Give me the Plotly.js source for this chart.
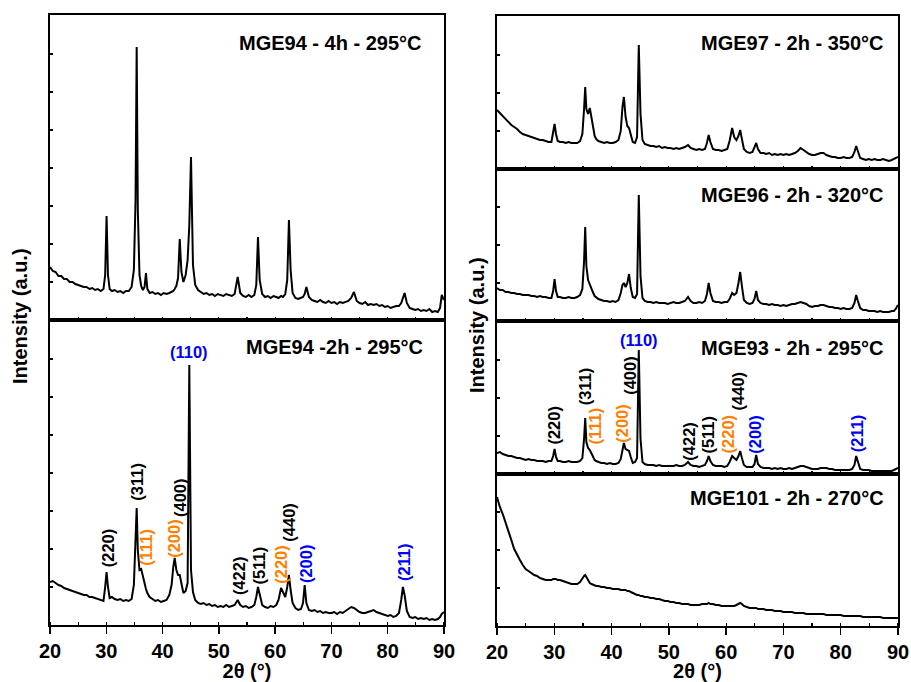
<!DOCTYPE html>
<html>
<head>
<meta charset="utf-8">
<script src="https://cdn.plot.ly/plotly-3.0.1.min.js"></script>
<style>
html,body{margin:0;padding:0;background:#fff;}
#chart{width:911px;height:682px;}
</style>
</head>
<body>
<div id="chart"></div>
<script>
// ---------------- DATA ----------------
const TWO_THETA = [
 20, 20.5, 21, 21.5, 22, 22.5, 23, 23.5, 24, 24.5,
 25, 25.5, 26, 26.5, 27, 27.5, 28, 28.5, 29, 29.5,
 29.8, 30.05, 30.3, 30.6, 31, 31.5, 32, 32.5, 33, 33.5,
 34, 34.5, 34.9, 35.2, 35.4, 35.6, 35.9, 36.2, 36.5, 36.8,
 37.05, 37.3, 37.7, 38.2, 38.7, 39.2, 39.7, 40.2, 40.7, 41.2,
 41.6, 41.9, 42.15, 42.45, 42.75, 43.05, 43.35, 43.7, 44.1, 44.45,
 44.75, 45.05, 45.4, 45.8, 46.3, 46.8, 47.3, 47.8, 48.3, 48.8,
 49.3, 49.8, 50.3, 50.8, 51.3, 51.8, 52.3, 52.8, 53.35, 53.8,
 54.3, 54.8, 55.3, 55.8, 56.3, 56.65, 56.95, 57.25, 57.7, 58.2,
 58.7, 59.2, 59.7, 60.2, 60.6, 61.05, 61.4, 61.8, 62.15, 62.45,
 62.75, 63.1, 63.6, 64.1, 64.6, 64.95, 65.25, 65.55, 66, 66.5,
 67, 67.5, 68, 68.5, 69, 69.5, 70, 70.5, 71, 71.5,
 72, 72.5, 73, 73.5, 74, 74.5, 75, 75.5, 76, 76.5,
 77, 77.5, 78, 78.5, 79, 79.5, 80, 80.5, 81, 81.5,
 82, 82.4, 82.7, 83.0, 83.4, 83.9, 84.4, 84.9, 85.4, 85.9,
 86.4, 86.9, 87.4, 87.9, 88.4, 88.9, 89.3, 89.6, 90
];

const MGE94_4H = [
 53, 49, 48, 44, 44, 41, 41, 38, 38, 36,
 35, 34, 33, 33, 31, 32, 30, 31, 29, 31,
 45, 104, 45, 31, 29, 30, 28, 29, 27, 29,
 29, 33, 50, 120, 273, 110, 45, 34, 30, 33,
 47, 31, 27, 28, 26, 27, 25, 27, 26, 27,
 28, 29, 31, 34, 42, 81, 48, 38, 45, 60,
 95, 163, 55, 35, 30, 28, 26, 27, 25, 26,
 24, 26, 25, 24, 26, 25, 24, 26, 43, 27,
 24, 23, 25, 23, 25, 35, 83, 40, 26, 23,
 24, 22, 24, 23, 22, 24, 23, 26, 40, 100,
 50, 27, 22, 21, 22, 23, 26, 33, 23, 20,
 19, 18, 20, 18, 17, 19, 17, 18, 16, 18,
 17, 18, 19, 22, 28, 19, 17, 16, 18, 15,
 16, 15, 16, 14, 15, 13, 14, 12, 13, 14,
 14, 17, 22, 27, 17, 12, 11, 10, 11, 9,
 10, 9, 11, 8, 9, 8, 12, 25, 20
];

const MGE94_2H = [
 43, 44, 42, 40, 39, 37, 36, 35, 34, 33,
 32, 31, 30, 30, 28, 28, 27, 26, 25, 24,
 38, 53, 38, 27, 28, 26, 25, 26, 24, 25,
 24, 26, 40, 80, 117, 75, 55, 56, 48, 40,
 36, 32, 28, 26, 24, 25, 23, 24, 25, 30,
 40, 58, 67, 55, 50, 50, 40, 32, 34, 42,
 260, 55, 33, 25, 22, 21, 22, 20, 21, 19,
 20, 18, 19, 18, 20, 18, 19, 20, 25, 20,
 18, 19, 17, 18, 20, 28, 38, 30, 20, 18,
 17, 19, 18, 20, 25, 37, 32, 28, 38, 50,
 35, 22, 17, 15, 16, 22, 40, 22, 15, 14,
 15, 13, 14, 12, 13, 12, 12, 13, 11, 13,
 12, 14, 16, 18, 17, 15, 13, 12, 12, 13,
 14, 15, 13, 12, 11, 10, 9, 10, 8, 9,
 12, 25, 38, 30, 14, 8, 7, 8, 6, 7,
 6, 7, 5, 6, 5, 6, 8, 11, 13
];

const MGE97_2H = [
 59, 56, 52, 49, 46, 44, 42, 40, 37, 35,
 34, 33, 32, 31, 30, 29, 29, 28, 27, 27,
 35, 45, 35, 28, 27, 27, 26, 27, 26, 26,
 26, 28, 35, 60, 82, 60, 55, 61, 50, 38,
 33, 30, 28, 27, 26, 27, 26, 26, 27, 29,
 38, 62, 72, 52, 43, 41, 35, 27, 26, 32,
 124, 55, 29, 25, 24, 23, 23, 22, 23, 21,
 22, 21, 21, 20, 21, 20, 21, 22, 24, 21,
 20, 19, 20, 19, 20, 26, 34, 27, 20, 19,
 19, 18, 19, 20, 28, 41, 32, 29, 33, 39,
 30, 20, 17, 16, 17, 21, 26, 20, 16, 16,
 15, 16, 14, 15, 14, 15, 14, 15, 14, 15,
 16, 18, 21, 19, 17, 15, 14, 14, 15, 16,
 16, 14, 13, 12, 12, 11, 11, 12, 11, 11,
 12, 17, 23, 18, 11, 10, 9, 10, 9, 10,
 9, 9, 10, 9, 8, 9, 10, 11, 12
];

const MGE96_2H = [
 33, 31, 31, 29, 29, 28, 28, 27, 27, 26,
 26, 26, 25, 25, 24, 25, 24, 24, 23, 23,
 30, 42, 30, 24, 24, 23, 23, 24, 23, 23,
 24, 26, 32, 60, 94, 55, 41, 36, 32, 28,
 25, 24, 22, 21, 20, 20, 19, 20, 19, 21,
 28, 36, 38, 34, 38, 47, 33, 24, 23, 27,
 126, 45, 23, 20, 19, 19, 18, 19, 18, 18,
 18, 17, 18, 19, 18, 18, 19, 20, 24, 20,
 18, 18, 19, 18, 20, 27, 38, 28, 20, 19,
 19, 18, 19, 19, 22, 28, 26, 28, 38, 49,
 35, 21, 18, 17, 18, 22, 30, 21, 18, 17,
 17, 16, 17, 16, 16, 15, 16, 15, 16, 17,
 17, 18, 19, 18, 17, 15, 14, 15, 15, 16,
 16, 15, 14, 14, 13, 13, 12, 13, 12, 12,
 13, 18, 26, 20, 13, 11, 11, 10, 10, 10,
 9, 10, 9, 9, 9, 10, 10, 12, 16
];

const MGE93_2H = [
 21, 22, 20, 19, 18, 18, 17, 16, 16, 15,
 14, 15, 14, 14, 13, 13, 13, 12, 13, 13,
 18, 25, 17, 13, 13, 12, 12, 13, 12, 12,
 12, 13, 16, 35, 56, 32, 26, 24, 20, 16,
 14, 13, 12, 11, 11, 10, 11, 10, 10, 11,
 15, 26, 31, 25, 24, 23, 17, 11, 12, 16,
 124, 35, 12, 10, 9, 9, 9, 8, 9, 8,
 8, 8, 8, 8, 9, 8, 8, 9, 12, 9,
 8, 8, 7, 8, 9, 13, 18, 13, 9, 8,
 8, 8, 7, 8, 12, 18, 16, 14, 18, 23,
 16, 9, 7, 7, 7, 10, 19, 10, 7, 6,
 6, 6, 5, 6, 5, 6, 5, 5, 6, 5,
 6, 7, 8, 8, 7, 6, 5, 5, 5, 6,
 6, 6, 5, 5, 4, 4, 4, 4, 4, 4,
 5, 9, 18, 12, 5, 4, 4, 4, 3, 3,
 3, 3, 3, 3, 3, 3, 4, 5, 6
];

const MGE101_2H = [
 129, 119, 112, 104, 96, 86, 77, 71, 66, 61,
 57, 55, 53, 51, 50, 48, 47, 46, 46, 46,
 47, 47, 47, 46, 46, 45, 44, 43, 42, 42,
 42, 44, 48, 50, 51, 49, 45, 43, 42, 41,
 41, 40, 40, 39, 39, 38, 38, 37, 37, 37,
 36, 36, 36, 36, 35, 35, 34, 33, 32, 31,
 31, 30, 30, 29, 29, 28, 28, 27, 27, 26,
 25, 25, 24, 24, 23, 23, 22, 22, 22, 21,
 21, 21, 21, 22, 22, 22, 23, 22, 22, 21,
 21, 20, 20, 20, 20, 20, 20, 21, 22, 23,
 22, 20, 19, 18, 18, 18, 18, 17, 17, 17,
 16, 16, 16, 15, 15, 15, 14, 14, 14, 14,
 13, 13, 13, 13, 12, 12, 12, 12, 12, 12,
 12, 11, 11, 11, 11, 11, 11, 10, 10, 10,
 10, 10, 10, 10, 10, 9, 9, 9, 9, 9,
 9, 9, 8, 8, 8, 8, 8, 8, 8
];

const SAMPLE_NAMES = [
 'MGE94 - 4h - 295°C', 'MGE94 -2h - 295°C',
 'MGE97 - 2h - 350°C', 'MGE96 - 2h - 320°C', 'MGE93 - 2h - 295°C', 'MGE101 - 2h - 270°C'
];

const X_TICKS = [20, 30, 40, 50, 60, 70, 80, 90];

// Peak indexing labels (hkl) and phase
const PEAK_HKL   = ['(220)','(311)','(111)','(200)','(400)','(110)','(422)','(511)','(220)','(440)','(200)','(211)'];
const PEAK_PHASE = ['Fe3O4','Fe3O4','FeO','FeO','Fe3O4','Fe','Fe3O4','Fe3O4','FeO','Fe3O4','Fe','Fe'];
// label anchor positions (2θ, intensity a.u.) for MGE94-2h and MGE93
const LBL_X_94 = [30.35, 35.4, 37.0, 42.0, 43.1, 44.7, 53.6, 57.2, 61.0, 62.4, 65.5, 82.9];
const LBL_Y_94 = [77, 143, 78, 87, 127, 273, 49, 60, 61, 103, 61, 63];
const LBL_X_93 = [30.0, 35.36, 37.1, 41.9, 43.1, 44.8, 53.5, 56.9, 60.4, 62.0, 65.0, 82.8];
const LBL_Y_93 = [48.7, 87.7, 48.5, 50.7, 98.5, 134, 33.2, 39.8, 40, 83.2, 40, 40.5];

// ---------------- LAYOUT / RENDER ----------------
const W = 911, H = 682;
const FONT = 'Liberation Sans, Arial, Helvetica, sans-serif';
const PHASE_COLOR = {Fe3O4: '#000000', FeO: '#FF8000', Fe: '#0000FF'};

function px2x(px){ return px / W; }
function px2y(px){ return 1 - px / H; }

const panels = [
 {xl:50, xr:444, yt:15, yb:320, data:MGE94_4H, bottom:false},
 {xl:50, xr:444, yt:320, yb:625, data:MGE94_2H, bottom:true},
 {xl:497, xr:898, yt:16, yb:169, data:MGE97_2H, bottom:false},
 {xl:497, xr:898, yt:169, yb:321, data:MGE96_2H, bottom:false},
 {xl:497, xr:898, yt:321, yb:474, data:MGE93_2H, bottom:false},
 {xl:497, xr:898, yt:474, yb:626, data:MGE101_2H, bottom:true}
];

const traces = [];
const layout = {
 width: W, height: H,
 margin: {l:0, r:0, t:0, b:0},
 paper_bgcolor: '#ffffff', plot_bgcolor: '#ffffff',
 showlegend: false,
 font: {family: FONT, color: '#000'},
 annotations: []
};

panels.forEach((p, i) => {
 const n = i + 1;
 const sfx = (n === 1 ? '' : String(n));
 traces.push({
  x: TWO_THETA, y: p.data, type: 'scatter', mode: 'lines',
  line: {color: '#000', width: 2},
  xaxis: 'x' + sfx, yaxis: 'y' + sfx,
  hoverinfo: 'skip'
 });
 const xaxis = {
  domain: [px2x(p.xl), px2x(p.xr)],
  anchor: 'y' + sfx,
  range: [20, 90],
  showgrid: false, zeroline: false,
  showline: true, linecolor: '#000', linewidth: 1.8,
  mirror: true
 };
 if (p.bottom) {
  Object.assign(xaxis, {
   tickmode: 'array', tickvals: X_TICKS,
   ticktext: X_TICKS.map(v => '<b>' + v + '</b>'),
   ticks: 'outside', ticklen: 7, tickwidth: 1.5, tickcolor: '#000',
   minor: {dtick: 5, tick0: 20, ticks: 'inside', ticklen: 3, tickwidth: 1.2, tickcolor: '#000'},
   showticklabels: true,
   tickfont: {family: FONT, size: 20, color: '#000'},
   title: {text: '<b>2θ (°)</b>', font: {family: FONT, size: 20, color: '#000'}, standoff: 2}
  });
 } else {
  Object.assign(xaxis, {
   tickmode: 'linear', tick0: 20, dtick: 5,
   ticks: 'inside', ticklen: 3, tickwidth: 1.2, tickcolor: '#000',
   showticklabels: false
  });
 }
 const yaxis = {
  domain: [px2y(p.yb), px2y(p.yt)],
  anchor: 'x' + sfx,
  range: [0, p.yb - p.yt],
  showgrid: false, zeroline: false,
  showline: true, linecolor: '#000', linewidth: 1.8,
  mirror: true,
  ticks: 'inside', ticklen: 3, tickwidth: 1.2, tickcolor: '#000',
  tickmode: 'linear', tick0: 0, dtick: 38,
  showticklabels: false
 };
 layout['xaxis' + sfx] = xaxis;
 layout['yaxis' + sfx] = yaxis;
});

// Sample name labels
const nameY = [43, 347, 43, 195, 347.5, 497.5];
const nameR = [424, 425, 886, 886, 886, 886];
SAMPLE_NAMES.forEach((s, i) => {
 layout.annotations.push({
  text: '<b>' + s + '</b>', xref: 'paper', yref: 'paper',
  x: px2x(nameR[i]), y: px2y(nameY[i]), xanchor: 'right', yanchor: 'middle',
  showarrow: false, font: {family: FONT, size: 20, color: '#000'}
 });
});

// hkl labels
function addLabels(xs, ys, xr, yr){
 PEAK_HKL.forEach((t, i) => {
  layout.annotations.push({
   text: '<b>' + t + '</b>', xref: xr, yref: yr,
   x: xs[i], y: ys[i], xanchor: 'center', yanchor: 'middle',
   textangle: t === '(110)' ? 0 : -90,
   showarrow: false,
   font: {family: FONT, size: 16.5, color: PHASE_COLOR[PEAK_PHASE[i]]}
  });
 });
}
addLabels(LBL_X_94, LBL_Y_94, 'x2', 'y2');
addLabels(LBL_X_93, LBL_Y_93, 'x5', 'y5');

// Y titles
[[20, 316], [477, 325]].forEach(([cx, cy]) => {
 layout.annotations.push({
  text: '<b>Intensity (a.u.)</b>', xref: 'paper', yref: 'paper',
  x: px2x(cx), y: px2y(cy), xanchor: 'center', yanchor: 'middle',
  textangle: -90, showarrow: false,
  font: {family: FONT, size: 20, color: '#000'}
 });
});

Plotly.newPlot('chart', traces, layout, {staticPlot: true, displayModeBar: false});
</script>
</body>
</html>
